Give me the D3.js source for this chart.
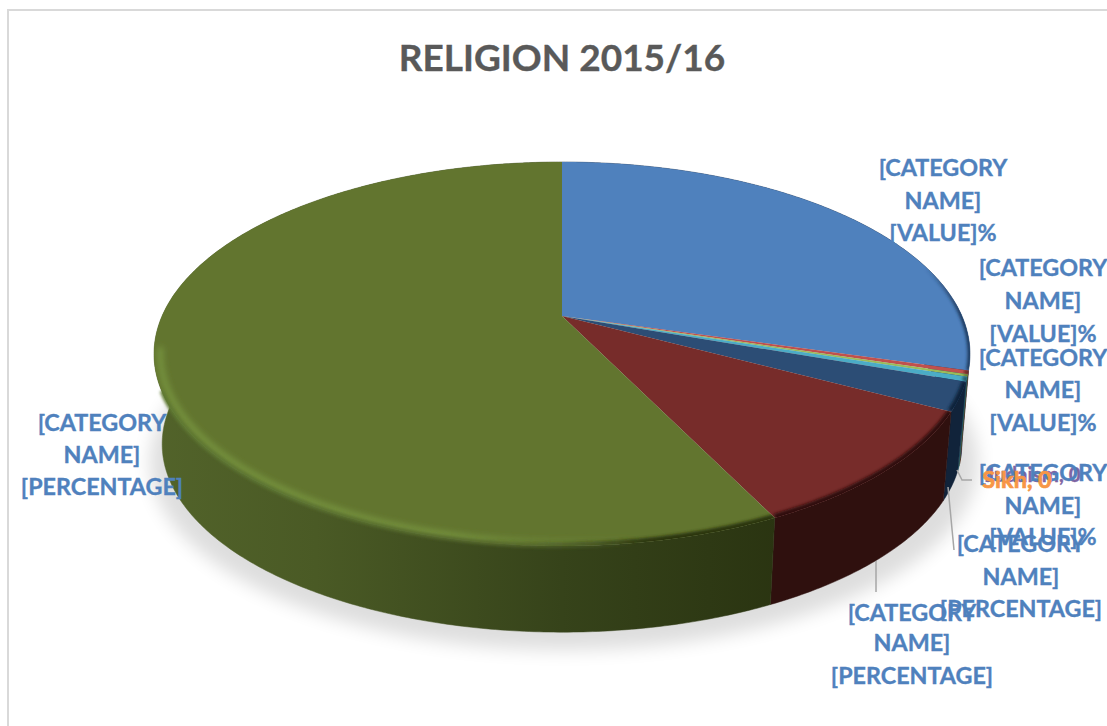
<!DOCTYPE html>
<html>
<head>
<meta charset="utf-8">
<script src="https://cdn.jsdelivr.net/npm/d3@7/dist/d3.min.js"></script>
<style>
html,body{margin:0;padding:0;background:#fff;overflow:hidden}
text{font-family:Lato,"Open Sans",sans-serif;font-weight:700;stroke:currentColor;stroke-width:0.35px}
</style>
</head>
<body>
<svg id="chart" width="1107" height="726"></svg>
<script>
// Religion breakdown, slices in clockwise order from twelve o'clock
const categories = ["Slice 1","Slice 2","Slice 3","Judaism","Slice 5","Sikh","Slice 7","Slice 8","Slice 9"];
const values = [29.5,0.3,0.2,0,0.4,0,2.4,10,57.2];
const topColors = ["#4f81bd","#c0504d","#9bbb59","#8064a2","#4bacc6","#f79646","#2c4d75","#772c2a","#62752f"];
const sideColors = ["#1f3a5e","#5a2624","#4a5a2a","#3d304f","#235766","#7a4a22","#11233a","#2f100e","#33401a"];
const titleText = "RELIGION 2015/16";
const placeholderName = ["[CATEGORY","NAME]"];
const valueLine = "[VALUE]%";
const percentLine = "[PERCENTAGE]";

const W = 1107, H = 726;
const svg = d3.select("#chart");
const defs = svg.append("defs");

// Disc geometry: the top face is a projected circle, so the pie centre sits above the ellipse centre
const apex = {x:562, y:316};
const reachUp = 154, reachDown = 230, reachSide = 408;
const k = -(reachDown-reachUp)/(reachDown+reachUp);
const sy = reachUp*(1-k);
const sx = reachSide*Math.sqrt(1-k*k);
const depth = 90, baseShrink = 0.98;

function project(angle, lowered){
  const cx = Math.sin(angle), cy = -Math.cos(angle);
  const w = 1 + k*cy;
  let x = sx*cx/w, y = sy*cy/w;
  if(lowered){
    x *= baseShrink;
    y = (y-(reachDown-reachUp)/2)*baseShrink + (reachDown-reachUp)/2 + depth;
  }
  return [apex.x+x, apex.y+y];
}
function arcPoints(a0,a1,lowered){
  const n = Math.max(2, Math.ceil((a1-a0)/0.01));
  return d3.range(n+1).map(i=>project(a0+(a1-a0)*i/n,lowered));
}
const line = d3.line();
const arcs = d3.pie().sort(null).startAngle(0).endAngle(2*Math.PI)(values);

// Blur filters
const addBlur = (id,dev)=>defs.append("filter").attr("id",id)
  .attr("filterUnits","userSpaceOnUse").attr("x",0).attr("y",0).attr("width",W).attr("height",H)
  .append("feGaussianBlur").attr("stdDeviation",dev);
addBlur("soft",9); addBlur("bevel",3); addBlur("edge",1.8);

// Frame along the top and left edges
svg.append("path").attr("d","M8,726V10H1107").attr("fill","none").attr("stroke","#d9d9d9").attr("stroke-width",2);

// Ground shadow under the disc
svg.append("ellipse").attr("cx",apex.x+2).attr("cy",462).attr("rx",414).attr("ry",188)
  .attr("fill","#000").attr("opacity",0.13).attr("filter","url(#soft)");

// Wall shading runs darker toward the right
const hGrad = (id,x1,x2,stops)=>{
  const g = defs.append("linearGradient").attr("id",id).attr("gradientUnits","userSpaceOnUse")
    .attr("x1",x1).attr("x2",x2).attr("y1",0).attr("y2",0);
  stops.forEach(s=>g.append("stop").attr("offset",s[0]).attr("stop-color",s[1]).attr("stop-opacity",s[2]===undefined?1:s[2]));
};
hGrad("wallOlive",153,970,[[0,"#52632a"],[0.2,"#4a5a25"],[0.5,"#36431a"],[0.77,"#2a3411"],[1,"#2a3411"]]);
hGrad("rimLight",153,640,[[0,"#7a9a42"],[0.6,"#7a9a42"],[1,"#7a9a42",0]]);
hGrad("rimDarkOlive",480,660,[[0,"#2a3411",0],[1,"#2a3411",1]]);
hGrad("rimDarkBlue",925,962,[[0,"#1f3a5e",0],[1,"#1f3a5e",1]]);
hGrad("rimSeam",153,640,[[0,"#5f7a33"],[0.7,"#56692c"],[1,"#56692c",0]]);

// Side walls
arcs.forEach((d,i)=>{
  if(d.endAngle-d.startAngle<=0) return;
  const pts = arcPoints(d.startAngle,d.endAngle,false).concat(arcPoints(d.startAngle,d.endAngle,true).reverse());
  svg.append("path").attr("d",line(pts)+"Z")
    .attr("fill", i===8 ? "url(#wallOlive)" : sideColors[i])
    .attr("stroke", i===8 ? "url(#wallOlive)" : sideColors[i]).attr("stroke-width",0.5);
});

// Top faces
arcs.forEach((d,i)=>{
  if(d.endAngle-d.startAngle<=0) return;
  const rim = arcPoints(d.startAngle,d.endAngle,false);
  const outline = [[apex.x,apex.y]].concat(rim);
  const clipId = "face"+i;
  defs.append("clipPath").attr("id",clipId).append("path").attr("d",line(outline)+"Z");
  const g = svg.append("g");
  g.append("path").attr("d",line(outline)+"Z").attr("fill",topColors[i]);
  const clipped = g.append("g").attr("clip-path",`url(#${clipId})`);
  // Dark falloff where the face rolls over into the wall, strongest at the front right
  const darkStroke = i===8 ? "url(#rimDarkOlive)" : i===0 ? "url(#rimDarkBlue)" : sideColors[i];
  const darkRim = i===8 ? rim.filter(p=>p[1]>apex.y+100) : rim;
  clipped.append("path").attr("d",line(darkRim)).attr("fill","none")
    .attr("stroke",darkStroke).attr("stroke-width",i===0?5:8).attr("filter","url(#edge)");
  if(i===8){
    // Highlight sits just inside the rim on the lit side
    const inner = rim.filter(p=>p[1]>=apex.y+30 && p[0]<700).map(p=>[apex.x+(p[0]-apex.x)*0.985,apex.y+(p[1]-apex.y)*0.985]);
    clipped.append("path").attr("d",line(inner)).attr("fill","none")
      .attr("stroke","url(#rimLight)").attr("stroke-width",5).attr("filter","url(#bevel)");
    // Soften the seam between the lit rim and the wall below it
    const seam = rim.filter(p=>p[1]>=apex.y+75 && p[0]<650);
    g.append("path").attr("d",line(seam)).attr("fill","none")
      .attr("stroke","url(#rimSeam)").attr("stroke-width",4).attr("filter","url(#edge)");
  }
});

// Leader lines
[[[957,470],[962,480],[972,480]],[[948,487],[954,550]],[[876,561],[876,592]]].forEach(p=>{
  svg.append("path").attr("d",line(p)).attr("fill","none").attr("stroke","#a6a6a6").attr("stroke-width",1.5);
});

// Title
svg.append("text").attr("x",562).attr("y",71).attr("text-anchor","middle")
  .attr("font-size",37).attr("fill","#595959").style("color","#595959").text(titleText);

// Zero-value slices carry their own name and value
svg.append("text").attr("x",1033).attr("y",482).attr("text-anchor","middle").attr("font-size",20.5)
  .attr("fill","#8064a2").style("color","#8064a2").text(`${categories[3]}, ${values[3]}`);

// Data labels
const labelGroup = svg.append("g").attr("font-size",23.3).attr("fill","#4f81bd").style("color","#4f81bd").attr("text-anchor","middle");
const labelPlace = [
  {x:943,y:[176,209,241],last:valueLine},
  {x:1043,y:[276,309,342],last:valueLine},
  {x:1043,y:[366,398,431],last:valueLine},
  {x:1043,y:[481,514,545],last:valueLine},
  {x:1021,y:[552,585,617],last:percentLine},
  {x:912,y:[621,651,684],last:percentLine},
  {x:102,y:[431,463,495],last:percentLine}
];
labelPlace.forEach(l=>{
  [...placeholderName,l.last].forEach((t,j)=>{
    labelGroup.append("text").attr("x",l.x).attr("y",l.y[j]).text(t);
  });
});
svg.append("text").attr("x",1017).attr("y",488).attr("text-anchor","middle").attr("font-size",23.5)
  .attr("fill","#f79646").style("color","#f79646").style("stroke-width","0.7px").text(`${categories[5]}, ${values[5]}`);
</script>
</body>
</html>
